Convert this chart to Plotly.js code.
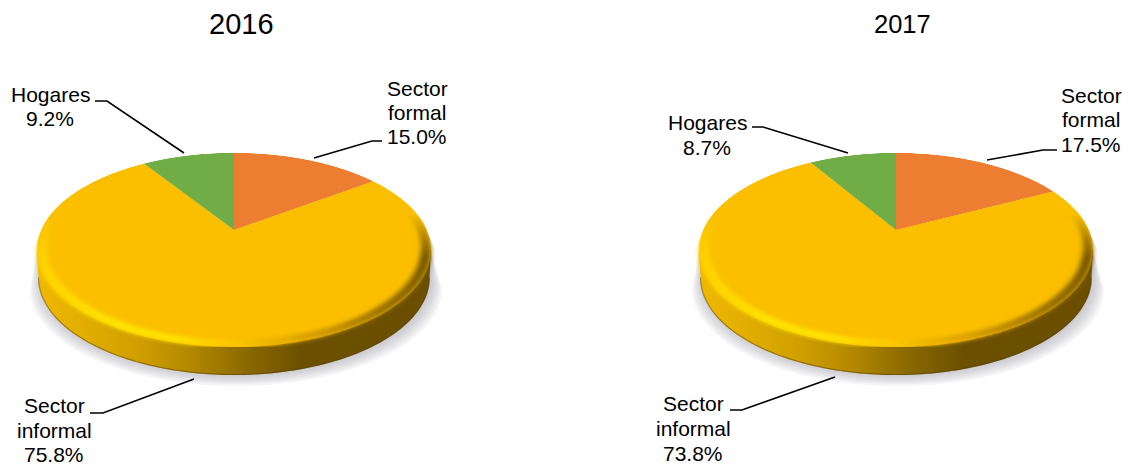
<!DOCTYPE html>
<html><head><meta charset="utf-8">
<script src="https://cdn.plot.ly/plotly-3.0.1.min.js"></script>
<style>
html,body{margin:0;padding:0;background:#fff;width:1128px;height:465px;overflow:hidden}
.layer{position:absolute;left:0;top:0}
.pie{position:absolute;width:400px;height:400px;transform-origin:200px 200px;pointer-events:none}
</style></head><body>
<div id="main" class="layer" style="width:1128px;height:465px"></div>
<div id="pie2016" class="pie"></div>
<div id="pie2017" class="pie"></div>
<script>
// ---- data ----
const categories = ['Sector formal', 'Sector informal', 'Hogares'];
const values2016 = [15.0, 75.8, 9.2];
const values2017 = [17.5, 73.8, 8.7];
const years = ['2016', '2017'];
const sliceColors = ['#ED7D31', '#FBBF00', '#70AD47'];

// ---- layout constants ----
const FONT = 'Liberation Sans, Arial, sans-serif';
const centers = [234, 896];      // apex x of each pie
const apexY = 230;
const A = 192.8, B = 92.9, K = 0.206, R = 200;   // perspective projection of the disc
const rx = 197, ellY = 250, ry = 97, depth = 28;
const shadowSteps = [2, 4, 6, 8, 10, 12];

const titleSpec = [{x: 241, y: 24, size: 29}, {x: 902, y: 24, size: 25.5}];
const labelLines = [
  // [year index, category index, centre x, line ys]
  [0, 0, 417, [88, 112, 136]],
  [0, 1, 54,  [405, 430, 454]],
  [0, 2, 50,  [94, 118]],
  [1, 0, 1091, [95, 119, 144]],
  [1, 1, 693, [403, 428, 453]],
  [1, 2, 707, [122, 147]]
];
const leaders = [
  [[382,141],[372,141],[314,158]],
  [[90,413],[103,413],[194,379]],
  [[95,101],[107,101],[184,153]],
  [[1057,150],[1043,150],[987,160]],
  [[730,410],[742,410],[835,377]],
  [[752,127],[763,127],[848,153]]
];

function pathOf(pts, close){
  return pts.map((p,i)=>(i?'L':'M')+p[0].toFixed(1)+','+p[1].toFixed(1)).join(' ')+(close?' Z':'');
}
function lowerArc(cx, cy, rxx, ryy){
  const pts=[]; for(let i=0;i<=120;i++){const t=Math.PI*i/120; pts.push([cx-rxx*Math.cos(t), cy+ryy*Math.sin(t)]);}
  return pts;
}

const shapes = [], annotations = [];
// soft shadow: a few faint, growing layers
centers.forEach((cx)=>{
  shadowSteps.forEach(d=>shapes.push({type:'path', xref:'x', yref:'y', layer:'below', line:{width:0}, fillcolor:'#8e8e9a', opacity:0.085,
    path: pathOf(lowerArc(cx+2, ellY+depth+d-1, rx-3+d, ry).concat([[cx+rx,ellY],[cx-rx,ellY]]), true)}));
});
const rimStart = shapes.length;
centers.forEach((cx)=>{
  // rim body
  shapes.push({type:'path', xref:'x', yref:'y', layer:'below', line:{width:0}, fillcolor:'#b08600',
    path: pathOf(lowerArc(cx, ellY+depth, rx-1.5, ry).concat([[cx+rx,ellY],[cx-rx,ellY]]), true)});
  // thin dark lower edge of the rim
  shapes.push({type:'path', xref:'x', yref:'y', layer:'below', line:{width:1.2, color:'rgba(80,58,0,0.45)'}, fillcolor:'rgba(0,0,0,0)',
    path: pathOf(lowerArc(cx, ellY+depth-0.5, rx-1.5, ry), false)});
});
leaders.forEach(l=>shapes.push({type:'path', xref:'x', yref:'y', line:{color:'#000',width:1.6}, fillcolor:'rgba(0,0,0,0)', path:pathOf(l,false), layer:'above'}));

years.forEach((y,i)=>annotations.push({text:y, x:titleSpec[i].x, y:titleSpec[i].y, xref:'x', yref:'y', showarrow:false,
  xanchor:'center', yanchor:'middle', font:{family:FONT,size:titleSpec[i].size,color:'#000'}}));
labelLines.forEach(([yi,ci,x,ys])=>{
  const v = (yi===0?values2016:values2017)[ci];
  const lines = (ci===2 ? [categories[ci]] : categories[ci].split(' ')).concat([v.toFixed(1)+'%']);
  lines.forEach((t,k)=>annotations.push({text:t, x:x, y:ys[k], xref:'x', yref:'y', showarrow:false, borderpad:0,
    xanchor:'center', yanchor:'middle', font:{family:FONT,size:21,color:'#000'}}));
});

const NS='http://www.w3.org/2000/svg';
function el(tag,attrs){const e=document.createElementNS(NS,tag);for(const k in attrs)e.setAttribute(k,attrs[k]);return e;}
function grad(defs,id,x1,x2,stops){
  const g=el('linearGradient',{id,gradientUnits:'userSpaceOnUse',x1,x2,y1:0,y2:0});
  stops.forEach(([o,c])=>g.appendChild(el('stop',{offset:o,'stop-color':c})));
  defs.appendChild(g);
}
function blur(defs,id,sd){
  const f=el('filter',{id,x:'-10%',y:'-20%',width:'120%',height:'140%'});
  f.appendChild(el('feGaussianBlur',{stdDeviation:sd}));
  defs.appendChild(f);
}

Plotly.newPlot('main', [{x:[0],y:[0],mode:'markers',marker:{opacity:0},hoverinfo:'skip',showlegend:false}], {
  width:1128, height:465, margin:{l:0,r:0,t:0,b:0}, showlegend:false,
  paper_bgcolor:'#fff', plot_bgcolor:'#fff',
  xaxis:{range:[0,1128],visible:false,fixedrange:true},
  yaxis:{range:[465,0],visible:false,fixedrange:true},
  shapes, annotations
},{staticPlot:true}).then(()=>{
  const svg=document.querySelector('#main svg.main-svg');
  const defs=svg.querySelector('defs')||svg.insertBefore(el('defs',{}),svg.firstChild);
  const rimStops=[[0,'#f0b800'],[0.16,'#dcaa00'],[0.26,'#cf9e00'],[0.39,'#b38800'],[0.515,'#8e6c00'],[0.67,'#6c5000'],[1,'#6b4e00']];
  centers.forEach((cx,i)=>grad(defs,'rim'+i,cx-rx,cx+rx,rimStops));
  svg.querySelectorAll('path[data-index]').forEach(p=>{
    const idx=+p.getAttribute('data-index')-rimStart;
    if(idx<0 || idx>=4 || idx%2) return;
    p.style.fill='url(#rim'+(idx/2)+')';
  });
});

// bevel ring, drawn in the disc's own plane so that it follows the same projection
[values2016, values2017].forEach((vals,i)=>{
  const id='pie'+years[i], box=document.getElementById(id), cx=centers[i];
  box.style.left=(cx-R)+'px'; box.style.top=(apexY-R)+'px';
  const m=[A/R,0,0,0, 0,B/R,0,-K/R, 0,0,1,0, 0,0,0,1];
  box.style.transform='matrix3d('+m.join(',')+')';
  Plotly.newPlot(id,[{type:'pie',labels:categories,values:vals,sort:false,direction:'clockwise',rotation:0,
    textinfo:'none',hoverinfo:'skip',showlegend:false,marker:{colors:sliceColors,line:{width:0}},domain:{x:[0,1],y:[0,1]}}],
    {width:400,height:400,margin:{l:0,r:0,t:0,b:0},paper_bgcolor:'rgba(0,0,0,0)',plot_bgcolor:'rgba(0,0,0,0)',showlegend:false,
     shapes:[{type:'circle',xref:'paper',yref:'paper',layer:'above',x0:0.012,x1:0.988,y0:0.012,y1:0.988,line:{width:10,color:'#ffd800'},fillcolor:'rgba(0,0,0,0)'}]},
    {staticPlot:true}).then(()=>{
      const svg=box.querySelector('svg.main-svg');
      const defs=svg.querySelector('defs')||svg.insertBefore(el('defs',{}),svg.firstChild);
      grad(defs,'bev'+i,0,400,[[0,'#ffd000'],[0.25,'#ffe400'],[0.38,'#ffe000'],[0.5,'#fcc400'],[0.65,'#dca200'],[0.82,'#9c7400'],[1,'#6f5200']]);
      blur(defs,'bsoft'+i,2.4);
      const lg=el('linearGradient',{id:'fade'+i,gradientUnits:'userSpaceOnUse',x1:0,x2:0,y1:165,y2:255});
      lg.appendChild(el('stop',{offset:0,'stop-color':'#000'}));
      lg.appendChild(el('stop',{offset:1,'stop-color':'#fff'}));
      defs.appendChild(lg);
      const mk=el('mask',{id:'mask'+i,maskUnits:'userSpaceOnUse',x:-20,y:-20,width:440,height:440});
      mk.appendChild(el('rect',{x:-20,y:-20,width:440,height:440,fill:'url(#fade'+i+')'}));
      defs.appendChild(mk);
      const p=box.querySelector('.layer-above path');
      p.style.stroke='url(#bev'+i+')';
      p.setAttribute('filter','url(#bsoft'+i+')');
      p.setAttribute('mask','url(#mask'+i+')');
    });
});
</script></body></html>
